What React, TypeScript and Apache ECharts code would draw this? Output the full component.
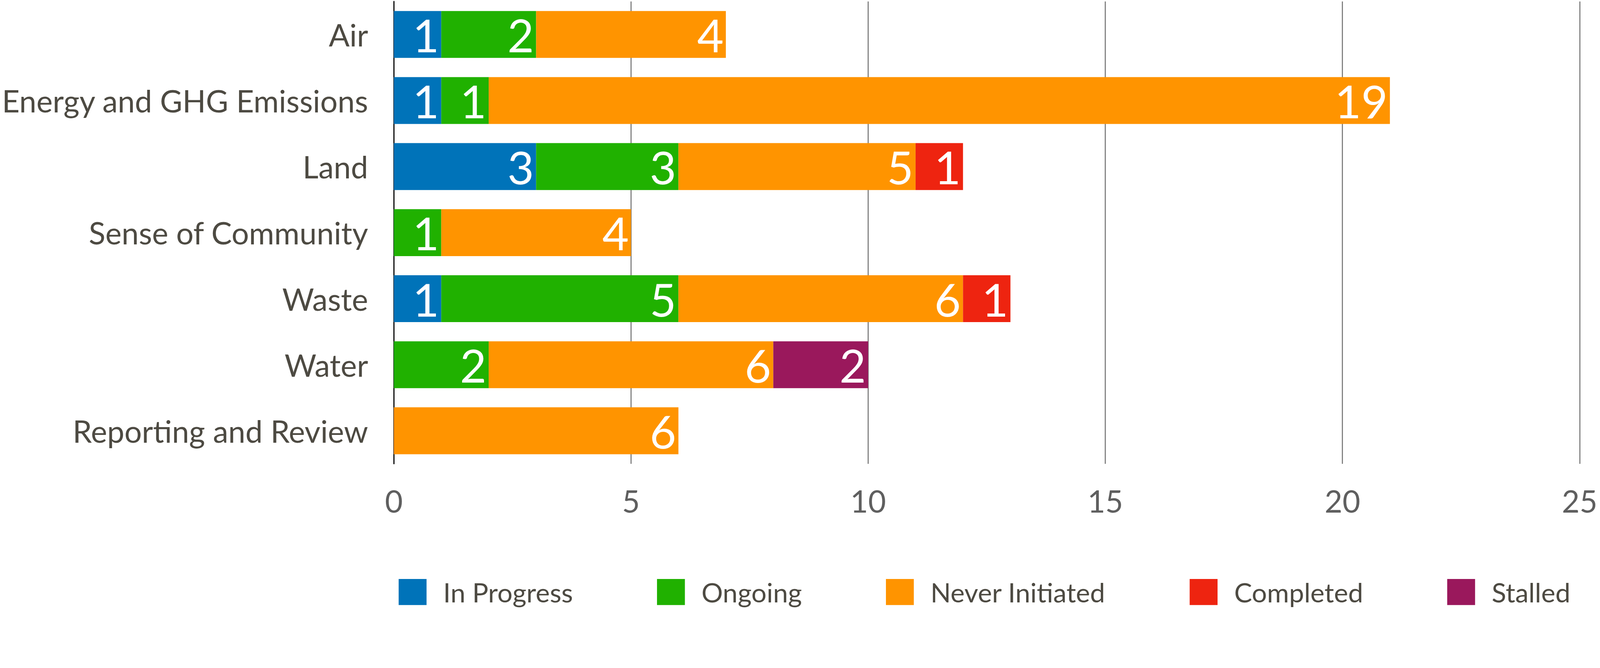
import React, { useEffect, useRef } from "react";
import * as echarts from "echarts";

const categories = [
  "Air",
  "Energy and GHG Emissions",
  "Land",
  "Sense of Community",
  "Waste",
  "Water",
  "Reporting and Review",
];
const seriesNames = ["In Progress", "Ongoing", "Never Initiated", "Completed", "Stalled"];
const inProgress = [1, 1, 3, null, 1, null, null];
const ongoing = [2, 1, 3, 1, 5, 2, null];
const neverInitiated = [4, 19, 5, 4, 6, 6, 6];
const completed = [null, null, 1, null, 1, null, null];
const stalled = [null, null, null, null, null, 2, null];
const xTicks = { min: 0, max: 25, interval: 5 };
const colors = ["#0073B9", "#20B100", "#FF9400", "#EE2410", "#9A185C"];

const FONT = "Lato";

export default function App() {
  const ref = useRef<HTMLDivElement>(null);
  useEffect(() => {
    document.body.style.margin = "0";
    document.body.style.overflow = "hidden";
    const el = ref.current!;
    const s = el.clientWidth / 4475;
    el.style.height = `${1711 * s}px`;
    const chart = echarts.init(el, null, { renderer: "svg" });
    const data = [inProgress, ongoing, neverInitiated, completed, stalled];
    chart.setOption({
      animation: false,
      textStyle: { fontFamily: FONT },
      grid: { left: 1100 * s, right: 57 * s, top: 4 * s, bottom: 413 * s, containLabel: false },
      legend: {
        data: seriesNames,
        left: 1110 * s,
        top: 1614 * s,
        itemWidth: 78 * s,
        itemHeight: 73 * s,
        itemGap: 235 * s,
        padding: 5 * s,
        icon: "rect",
        textStyle: {
          fontFamily: FONT,
          fontSize: 75 * s,
          color: "#4D4A42",
          padding: [0, 0, 0, 41 * s],
        },
      },
      xAxis: {
        type: "value",
        min: xTicks.min,
        max: xTicks.max,
        interval: xTicks.interval,
        axisLine: { show: false },
        axisTick: { show: false },
        splitLine: { show: true, lineStyle: { color: "#7A7A7A", width: 3 * s } },
        axisLabel: { fontFamily: FONT, fontSize: 86 * s, color: "#5F5F5F", margin: 60 * s },
      },
      yAxis: {
        type: "category",
        data: categories,
        inverse: true,
        axisLine: { show: true, lineStyle: { color: "#000000", width: 3 * s } },
        axisTick: { show: false },
        axisLabel: { fontFamily: FONT, fontSize: 86 * s, color: "#4D4A42", margin: 72 * s },
      },
      series: seriesNames.map((name, i) => ({
        name,
        type: "bar",
        stack: "total",
        data: data[i],
        barCategoryGap: "29%",
        itemStyle: { color: colors[i] },
        label: {
          show: true,
          position: "insideRight",
          distance: 6 * s,
          color: "#FFFFFF",
          fontFamily: FONT,
          fontSize: 128 * s,
        },
      })),
    });
    return () => chart.dispose();
  }, []);
  return (
    <div
      ref={ref}
      style={{ position: "fixed", left: 0, top: 0, width: "100vw", height: "100vh", background: "#fff" }}
    />
  );
}
